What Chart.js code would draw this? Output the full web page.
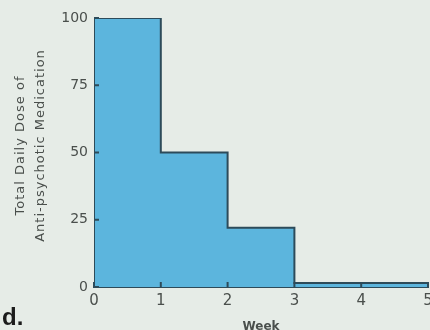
<!DOCTYPE html>
<html>
<head>
<meta charset="utf-8">
<script src="https://cdn.jsdelivr.net/npm/chart.js@4"></script>
<style>
html,body{margin:0;padding:0;background:#e6ece7;}
#wrap{position:relative;width:430px;height:330px;overflow:hidden;}
#panel{position:absolute;left:2px;top:305px;font:bold 24px 'Liberation Sans',sans-serif;line-height:24px;color:#1c1c1c;}
</style>
</head>
<body>
<div id="wrap">
<canvas id="dose" width="430" height="330"></canvas>
<div id="panel">d.</div>
</div>
<script>
// week where each dose level starts, last entry closes the final step
const weeks = [0, 1, 2, 3, 5];
const doses = [100, 50, 22, 1.5, 1.5];

const yTicks = [0, 25, 50, 75, 100];
const xTicks = [0, 1, 2, 3, 4, 5];
const yTitle = ['Total Daily Dose of', 'Anti-psychotic Medication'];
const xTitle = 'Week';

const ink = '#2d4b5a';
const txt = '#4a4f4c';

// outline starts and ends on the baseline
let steps = [{x: weeks[0], y: 0}];
weeks.forEach(function(w, i){
steps.push({x: w, y: doses[i]});
});
steps.push({x: weeks[weeks.length - 1], y: 0});

/* inward tick marks + two line y title */
const extras = {
id: 'extras',
afterDatasetsDraw(chart){
const {ctx, chartArea: a, scales: {x, y}} = chart;
ctx.save();
ctx.strokeStyle = ink;
ctx.lineWidth = 2;
ctx.beginPath();
yTicks.forEach(function(v){
let py = y.getPixelForValue(v);
ctx.moveTo(a.left, py);
ctx.lineTo(a.left + 5, py);
});
xTicks.forEach(function(v){
let px = x.getPixelForValue(v);
ctx.moveTo(px, a.bottom);
ctx.lineTo(px, a.bottom - 5);
});
ctx.stroke();
ctx.restore();
},
afterDraw(chart){
const {ctx, chartArea: a} = chart;
ctx.save();
ctx.fillStyle = txt;
ctx.font = '13px "DejaVu Sans"';
ctx.letterSpacing = '1px';
ctx.textAlign = 'center';
ctx.textBaseline = 'middle';
ctx.translate(a.left - 73, (a.top + a.bottom) / 2 - 7);
ctx.rotate(-Math.PI / 2);
yTitle.forEach(function(line, i){
ctx.fillText(line, 0, i * 20);
});
ctx.restore();
}
};

new Chart(document.getElementById('dose'), {
type: 'line',
data: {
datasets: [{
data: steps,
stepped: true,
fill: 'origin',
backgroundColor: '#5cb5dd',
borderColor: ink,
borderWidth: 2,
pointRadius: 0,
tension: 0
}]
},
options: {
responsive: false,
animation: false,
layout: {padding: {left: 0, right: 2, top: 18, bottom: 0}},
plugins: {legend: {display: false}, tooltip: {enabled: false}},
scales: {
x: {
type: 'linear',
min: 0,
max: 5,
grid: {display: false, drawTicks: false},
border: {display: true, color: ink, width: 2},
afterBuildTicks: function(scale){ scale.ticks = xTicks.map(v => ({value: v})); },
afterFit: function(scale){ scale.height = 43; scale.paddingLeft = 0; scale.paddingRight = 0; },
ticks: {
color: txt,
font: {family: 'DejaVu Sans', size: 15},
padding: 5,
maxRotation: 0,
autoSkip: false
},
title: {
display: true,
text: xTitle,
color: txt,
font: {family: 'DejaVu Sans', size: 12, weight: 'bold'},
padding: {top: 0, bottom: -4}
}
},
y: {
min: 0,
max: 100,
grid: {display: false, drawTicks: false},
border: {display: false},
afterBuildTicks: function(scale){ scale.ticks = yTicks.map(v => ({value: v})); },
afterFit: function(scale){ scale.width = 94; },
ticks: {
color: txt,
font: {family: 'DejaVu Sans', size: 14},
padding: 6
}
}
}
},
plugins: [extras]
});
</script>
</body>
</html>
